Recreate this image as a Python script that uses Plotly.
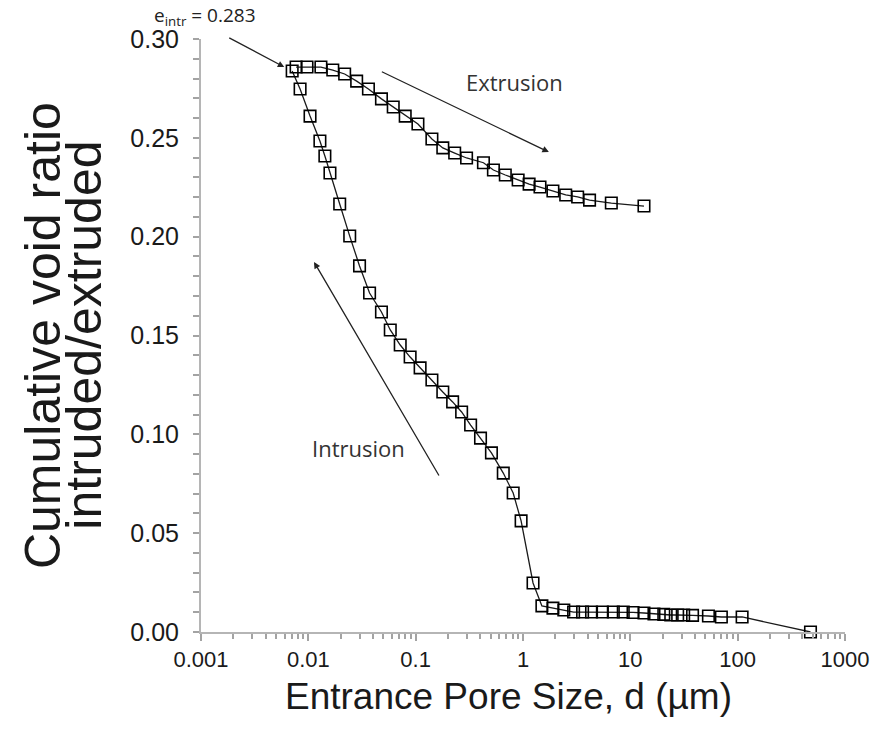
import plotly.graph_objects as go

# Intrusion branch (entrance pore size in µm, cumulative void ratio)
intr_d = [0.00707, 0.00838, 0.01037, 0.01282, 0.01426, 0.0159, 0.0196, 0.0243, 0.030,
          0.0372, 0.048, 0.058, 0.0718, 0.0888, 0.110, 0.1417, 0.179, 0.221, 0.268,
          0.325, 0.402, 0.508, 0.655, 0.81, 0.96, 1.24, 1.50, 1.90, 2.40, 2.96, 3.59,
          4.35, 5.49, 6.94, 8.59, 10.6, 13.4, 16.6, 20.5, 23.8, 27.6, 31.4, 38.0, 53.4,
          70.5, 110, 477]
intr_e = [0.2838, 0.2747, 0.2610, 0.2484, 0.2408, 0.2322, 0.2165, 0.2003, 0.1852,
          0.1715, 0.1619, 0.1528, 0.1452, 0.1391, 0.1336, 0.1275, 0.1214, 0.1164, 0.1113,
          0.1047, 0.0981, 0.0906, 0.0804, 0.0703, 0.0562, 0.0248, 0.0132, 0.0121, 0.0111,
          0.0101, 0.0101, 0.0101, 0.0101, 0.0101, 0.0101, 0.0099, 0.0096, 0.0091, 0.0089,
          0.0086, 0.0086, 0.0086, 0.0084, 0.0081, 0.0076, 0.0076, 0.0000]

# Extrusion branch
extr_d = [0.00769, 0.00972, 0.0131, 0.0169, 0.0218, 0.0282, 0.0363, 0.048, 0.0618,
          0.0799, 0.105, 0.1417, 0.179, 0.231, 0.298, 0.428, 0.530, 0.684, 0.901,
          1.14, 1.44, 1.90, 2.50, 3.23, 4.17, 6.65, 13.4]
extr_e = [0.2858, 0.2858, 0.2858, 0.2843, 0.2823, 0.2787, 0.2747, 0.2697, 0.2656,
          0.2610, 0.2570, 0.2494, 0.2449, 0.2423, 0.2398, 0.2374, 0.2337, 0.2312, 0.2287,
          0.2266, 0.2251, 0.2231, 0.2211, 0.2201, 0.2185, 0.2170, 0.2155]

x_tickvals = [0.001, 0.01, 0.1, 1, 10, 100, 1000]
x_ticktext = ["0.001", "0.01", "0.1", "1", "10", "100", "1000"]
x_minor_mult = [2, 3, 4, 5, 6, 7, 8, 9]
x_minor_vals = [m * v for v in x_tickvals[:-1] for m in x_minor_mult]

AXC = "#b5b5b5"
TICKC = "#a3a3a3"
LINEC = "#1a1a1a"
TXT = "#1a1a1a"
FONT_SANS = "Liberation Sans, Arial, sans-serif"
FONT_CAL = "Open Sans, Lato, sans-serif"

fig = go.Figure()
for d, e in [(intr_d, intr_e), (extr_d, extr_e)]:
    fig.add_trace(go.Scatter(
        x=d, y=e, mode="lines+markers", cliponaxis=False,
        line=dict(color=LINEC, width=1.3),
        marker=dict(symbol="square-open", size=11.5, color="black",
                    line=dict(width=1.6, color="black")),
        showlegend=False))

fig.update_layout(
    width=881, height=733,
    margin=dict(l=201, r=30, t=39, b=101),
    paper_bgcolor="white", plot_bgcolor="white",
    showlegend=False,
    xaxis=dict(
        type="log", range=[-3, 3],
        tickmode="array", tickvals=x_tickvals, ticktext=x_ticktext,
        ticks="outside", ticklen=7, tickwidth=1.6, tickcolor=TICKC,
        showline=True, linecolor=AXC, linewidth=2,
        showgrid=False, zeroline=False,
        tickfont=dict(family=FONT_SANS, size=22, color=TXT),
        minor=dict(tickmode="array", tickvals=x_minor_vals,
                   ticks="outside", ticklen=5, tickwidth=1.6, tickcolor=TICKC,
                   showgrid=False),
    ),
    yaxis=dict(
        range=[0, 0.30], tick0=0, dtick=0.05, tickformat=".2f",
        ticks="outside", ticklen=6, tickwidth=1.6, tickcolor=TICKC,
        ticklabelstandoff=9,
        showline=True, linecolor=AXC, linewidth=2,
        showgrid=False, zeroline=False,
        tickfont=dict(family=FONT_SANS, size=25, color=TXT),
        minor=dict(tickmode="linear", tick0=0, dtick=0.01,
                   ticks="outside", ticklen=6, tickwidth=1.6, tickcolor=TICKC,
                   showgrid=False),
    ),
)

# Axis titles
fig.add_annotation(text="Entrance Pore Size, d (µm)", xref="paper", yref="paper",
                   x=0.478, y=-0.1096, xanchor="center", yanchor="middle",
                   showarrow=False, font=dict(family=FONT_SANS, size=37, color=TXT))
fig.add_annotation(text="Cumulative void ratio", xref="paper", yref="paper",
                   x=-0.246, y=0.5, xanchor="center", yanchor="middle",
                   textangle=-90, showarrow=False,
                   font=dict(family=FONT_SANS, size=50, color=TXT))
fig.add_annotation(text="intruded/extruded", xref="paper", yref="paper",
                   x=-0.183, y=0.5, xanchor="center", yanchor="middle",
                   textangle=-90, showarrow=False,
                   font=dict(family=FONT_SANS, size=50, color=TXT))

# e_intr label and arrow
fig.add_annotation(text="e<sub>intr</sub> = 0.283", xref="paper", yref="paper",
                   x=-0.0754, y=1.039, xanchor="left", yanchor="middle",
                   showarrow=False, font=dict(family=FONT_CAL, size=19, color="#222"))
fig.add_annotation(x=-2.2244, y=0.2858, ax=-2.7507, ay=0.3010,
                   xref="x", yref="y", axref="x", ayref="y", text="",
                   showarrow=True, arrowhead=2, arrowsize=1, arrowwidth=1.3,
                   arrowcolor="#222")

# Extrusion arrow and label
fig.add_annotation(x=0.241, y=0.2428, ax=-1.329, ay=0.2838,
                   xref="x", yref="y", axref="x", ayref="y", text="",
                   showarrow=True, arrowhead=2, arrowsize=1, arrowwidth=1.3,
                   arrowcolor="#222")
fig.add_annotation(text="Extrusion", x=-0.082, y=0.2782, xref="x", yref="y",
                   showarrow=False, font=dict(family=FONT_CAL, size=22, color="#333"))

# Intrusion arrow and label
fig.add_annotation(x=-1.947, y=0.1872, ax=-0.775, ay=0.0784,
                   xref="x", yref="y", axref="x", ayref="y", text="",
                   showarrow=True, arrowhead=2, arrowsize=1, arrowwidth=1.3,
                   arrowcolor="#222")
fig.add_annotation(text="Intrusion", x=-1.532, y=0.0931, xref="x", yref="y",
                   showarrow=False, font=dict(family=FONT_CAL, size=22, color="#333"))

fig.write_html("out.html")
